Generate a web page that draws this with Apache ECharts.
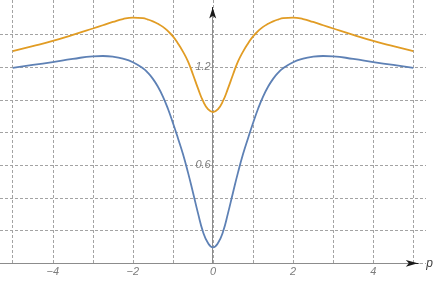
<!DOCTYPE html>
<html>
<head>
<meta charset="utf-8">
<script src="https://cdn.jsdelivr.net/npm/echarts@6/dist/echarts.min.js"></script>
<style>
html,body{margin:0;padding:0;background:#fff;}
#chart{width:436px;height:281px;}
</style>
</head>
<body>
<div id="chart"></div>
<script>
// ---- data ----
const xValues = [-5, -4.5, -4, -3.5, -3, -2.75, -2.5, -2.25, -2, -1.75, -1.625, -1.5, -1.375, -1.25, -1.125, -1, -0.875, -0.75, -0.625, -0.5, -0.375, -0.25, -0.125, 0,
                 0.125, 0.25, 0.375, 0.5, 0.625, 0.75, 0.875, 1, 1.125, 1.25, 1.375, 1.5, 1.625, 1.75, 2, 2.25, 2.5, 2.75, 3, 3.5, 4, 4.5, 5];
const blueValues = [1.195, 1.213, 1.231, 1.250, 1.266, 1.268, 1.264, 1.252, 1.230, 1.193, 1.165, 1.128, 1.080, 1.020, 0.945, 0.858, 0.765, 0.668, 0.556, 0.433, 0.307, 0.193, 0.124, 0.098,
                    0.124, 0.193, 0.307, 0.433, 0.556, 0.668, 0.765, 0.858, 0.945, 1.020, 1.080, 1.128, 1.165, 1.193, 1.230, 1.252, 1.264, 1.268, 1.266, 1.250, 1.231, 1.213, 1.195];
const orangeValues = [1.298, 1.328, 1.360, 1.397, 1.436, 1.456, 1.476, 1.494, 1.503, 1.499, 1.491, 1.480, 1.465, 1.446, 1.420, 1.388, 1.345, 1.295, 1.235, 1.155, 1.070, 0.993, 0.943, 0.925,
                      0.943, 0.993, 1.070, 1.155, 1.235, 1.295, 1.345, 1.388, 1.420, 1.446, 1.465, 1.480, 1.491, 1.499, 1.503, 1.494, 1.476, 1.456, 1.436, 1.397, 1.360, 1.328, 1.298];
const xTickLabels = [-4, -2, 0, 2, 4];
const yTickLabels = [0.6, 1.2];
const xAxisName = 'p';

const blueSeries = xValues.map((x, i) => [x, blueValues[i]]);
const orangeSeries = xValues.map((x, i) => [x, orangeValues[i]]);

const gridColor = '#a3a3a3';
const axisGray = '#8c8c8c';
const arrowColor = '#1a1a1a';
const labelStyle = {fontFamily: 'Liberation Sans', fontStyle: 'italic', fontSize: 11, color: '#7d7d7d'};
const off = {show: false};
const hiddenX = (g) => ({gridIndex: g, type: 'value', min: 0, max: 1, show: false});
const hiddenY = (g) => ({gridIndex: g, type: 'value', min: 0, max: 1, show: false});

const chart = echarts.init(document.getElementById('chart'), null, {renderer: 'canvas'});
chart.setOption({
  animation: false,
  grid: [
    {left: 12.7, right: 22.7, top: 0, bottom: 17.7},   // 0 data + vertical grid + x labels
    {left: 0, right: 10, top: 34.4, bottom: 17.7},     // 1 horizontal grid lines
    {left: 0, right: 17, top: 0, bottom: 17.7},        // 2 x axis line
    {left: 413, right: 17, top: 0, bottom: 17.7},      // 3 x arrow + name
    {left: 212.7, right: 213.3, top: 0, bottom: 17.7}, // 4 y labels
    {left: 212.7, right: 213.3, top: 10, bottom: 17.7},// 5 y axis line
    {left: 212.7, right: 213.3, top: 7.5, bottom: 268} // 6 y arrow
  ],
  xAxis: [
    {gridIndex: 0, type: 'value', min: -5, max: 5, interval: 1,
     axisLine: off, axisTick: off,
     splitLine: {show: true, lineStyle: {color: gridColor, width: 1, type: [3, 2]}},
     axisLabel: Object.assign({margin: 3, formatter: v => xTickLabels.includes(v) ? String(v).replace('-', '\u2212') : ''}, labelStyle)},
    hiddenX(1),
    {gridIndex: 2, type: 'value', min: 0, max: 1, axisLine: {show: true, onZero: false, lineStyle: {color: axisGray, width: 1}},
     axisTick: off, axisLabel: off, splitLine: off},
    {gridIndex: 3, type: 'value', min: 0, max: 1,
     axisLine: {show: true, onZero: false, symbol: ['none', 'arrow'], symbolSize: [5, 12], lineStyle: {color: arrowColor, width: 1}},
     axisTick: off, axisLabel: off, splitLine: off,
     name: xAxisName, nameLocation: 'end', nameGap: 8.5,
     nameTextStyle: {fontFamily: 'Liberation Sans', fontStyle: 'italic', fontSize: 12, color: '#404040', verticalAlign: 'middle'}},
    hiddenX(4), hiddenX(5), hiddenX(6)
  ],
  yAxis: [
    {gridIndex: 0, type: 'value', min: 0, max: 1.6104, show: false},
    {gridIndex: 1, type: 'value', min: 0, max: 1.4, interval: 0.2,
     axisLine: off, axisTick: off, axisLabel: off,
     splitLine: {show: true, lineStyle: {color: gridColor, width: 1, type: [3, 2]}}},
    hiddenY(2), hiddenY(3),
    {gridIndex: 4, type: 'value', min: 0, max: 1.6104, interval: 0.2,
     axisLine: off, axisTick: off, splitLine: off,
     axisLabel: Object.assign({margin: 2, formatter: v => yTickLabels.some(t => Math.abs(t - v) < 1e-6) ? v.toFixed(1) : ''}, labelStyle)},
    {gridIndex: 5, type: 'value', min: 0, max: 1, position: 'left',
     axisLine: {show: true, onZero: false, lineStyle: {color: axisGray, width: 1}},
     axisTick: off, axisLabel: off, splitLine: off},
    {gridIndex: 6, type: 'value', min: 0, max: 1, position: 'left',
     axisLine: {show: true, onZero: false, symbol: ['none', 'arrow'], symbolSize: [5.25, 11], lineStyle: {color: arrowColor, width: 1}},
     axisTick: off, axisLabel: off, splitLine: off}
  ],
  series: [
    {type: 'line', xAxisIndex: 0, yAxisIndex: 0, data: blueSeries, smooth: 0.5, showSymbol: false,
     lineStyle: {color: '#5E81B5', width: 1.8}, z: 5},
    {type: 'line', xAxisIndex: 0, yAxisIndex: 0, data: orangeSeries, smooth: 0.5, showSymbol: false,
     lineStyle: {color: '#E19C24', width: 1.8}, z: 5}
  ]
});
</script>
</body>
</html>
